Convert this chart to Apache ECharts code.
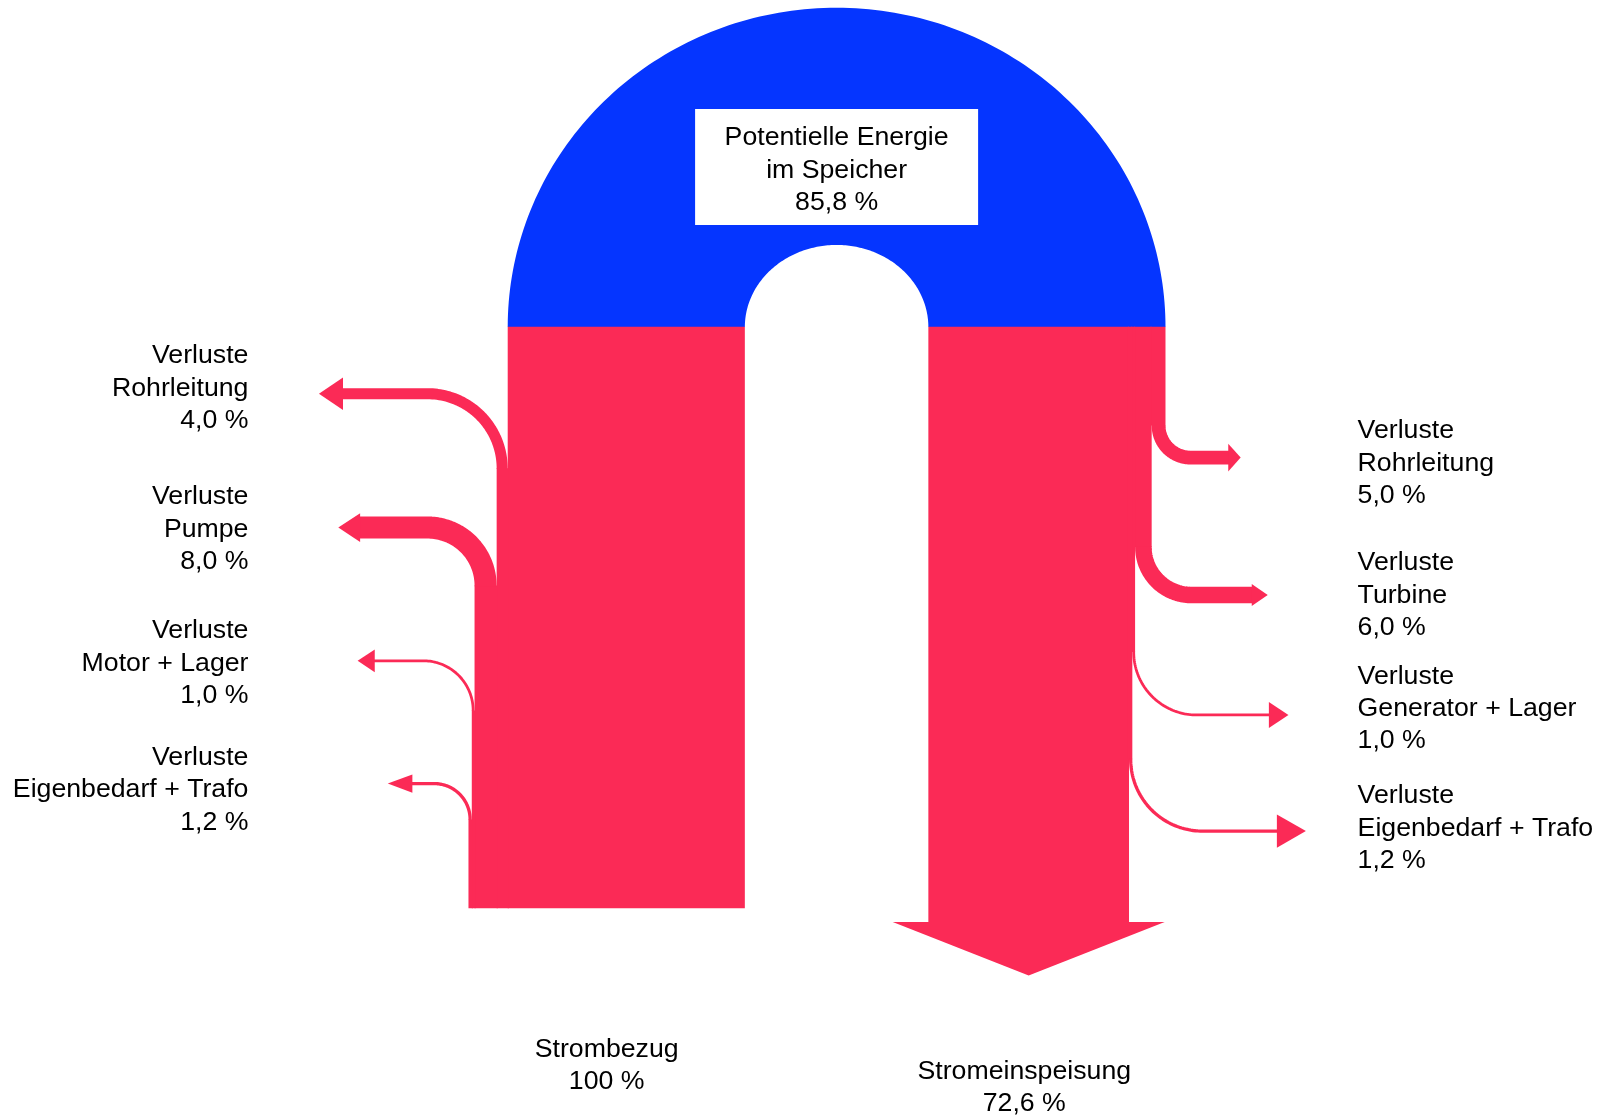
<!DOCTYPE html>
<html>
<head>
<meta charset="utf-8">
<script src="https://cdn.jsdelivr.net/npm/echarts@6/dist/echarts.min.js"></script>
<style>
html,body{margin:0;padding:0;background:#fff;}
#chart{width:1603px;height:1117px;}
</style>
</head>
<body>
<div id="chart"></div>
<script>
// ---------------- data (percent of the electrical input) ----------------
const inputName = 'Strombezug';
const inputValue = 100;
const storageName = 'Potentielle Energie\nim Speicher';
const storageValue = 85.8;
const outputName = 'Stromeinspeisung';
const outputValue = 72.6;
const lossPrefix = 'Verluste';
const pumpLossNames = ['Rohrleitung', 'Pumpe', 'Motor + Lager', 'Eigenbedarf + Trafo'];
const pumpLossValues = [4.0, 8.0, 1.0, 1.2];
const turbineLossNames = ['Rohrleitung', 'Turbine', 'Generator + Lager', 'Eigenbedarf + Trafo'];
const turbineLossValues = [5.0, 6.0, 1.0, 1.2];

// ---------------- layout (in flow units: 1 unit = 1 % of flow width) ----------------
const L = {
  leftColRight: 269.5,
  rightColLeft: 335.9,
  colTop: 118.3,
  leftColBottom: 328.5,
  rightColBottom: 333.5,
  downHeadExtra: 12.9,
  downHeadLen: 19.3,
  archInnerRy: 29.7,
  box: { cy: 60.4, hw: 51.2, hh: 21 },
  pump: [
    { y: 142.4, r: 27, tip: 115.4, hl: 8.7, hh: 5.9, ly: 140.4 },
    { y: 190.8, r: 21, tip: 122.4, hl: 7.9, hh: 5.2, ly: 191.4 },
    { y: 239.0, r: 18, tip: 129.4, hl: 6.2, hh: 4.1, ly: 239.9 },
    { y: 283.4, r: 13, tip: 140.3, hl: 8.9, hh: 3.3, ly: 285.7 }
  ],
  turbine: [
    { y: 165.5, r: 11.6, tip: 448.9, hl: 4.5, hh: 5.0, ly: 167.6 },
    { y: 215.2, r: 17.4, tip: 458.7, hl: 5.8, hh: 4.0, ly: 215.3 },
    { y: 258.6, r: 22.8, tip: 466.2, hl: 7.1, hh: 4.7, ly: 256.3 },
    { y: 300.6, r: 26.0, tip: 472.5, hl: 10.5, hh: 6.0, ly: 299.6 }
  ],
  seam: 0.4,
  leftLabelX: 89.9,
  rightLabelX: 491.2,
  inLabelY: 385.4,
  outLabelY: 393.4,
  outLabelDx: -1.6,
  boxTextDy: 1.2
};

const RED = '#FB2A56';
const BLUE = '#0535FF';
const TXT = {
  fontFamily: '"Liberation Sans", Arial, Helvetica, sans-serif',
  fontSize: 26.7,
  lineHeight: 32.4,
  fill: '#000'
};

function pct(v) {
  return (Number.isInteger(v) && v >= 100 ? String(v) : v.toFixed(1).replace('.', ',')) + ' %';
}
function sum(arr) { return arr.reduce((a, b) => a + b, 0); }
function rectEl(api, xa, ya, xb, yb) {
  const p0 = api.coord([Math.min(xa, xb), Math.min(ya, yb)]);
  const p1 = api.coord([Math.max(xa, xb), Math.max(ya, yb)]);
  return { type: 'rect', shape: { x: p0[0], y: p0[1], width: p1[0] - p0[0], height: p1[1] - p0[1] }, style: { fill: RED } };
}

// ---- storage arch (potential energy) ----
function renderStorage(params, api) {
  const v = api.value(0);
  const cx = (L.leftColRight + L.rightColLeft) / 2;
  const rxi = (L.rightColLeft - L.leftColRight) / 2;
  const ryi = L.archInnerRy;
  const rxo = rxi + v, ryo = ryi + v;
  const N = 160;
  const pts = [];
  for (let k = 0; k <= N; k++) {
    const t = Math.PI * (1 - k / N);
    pts.push(api.coord([cx + rxo * Math.cos(t), L.colTop - ryo * Math.sin(t)]));
  }
  for (let k = 0; k <= N; k++) {
    const t = Math.PI * k / N;
    pts.push(api.coord([cx + rxi * Math.cos(t), L.colTop - ryi * Math.sin(t)]));
  }
  const b0 = api.coord([cx - L.box.hw, L.box.cy - L.box.hh]);
  const b1 = api.coord([cx + L.box.hw, L.box.cy + L.box.hh]);
  const c = api.coord([cx, L.box.cy + L.boxTextDy]);
  return {
    type: 'group',
    children: [
      { type: 'polygon', shape: { points: pts }, style: { fill: BLUE } },
      { type: 'rect', shape: { x: b0[0], y: b0[1], width: b1[0] - b0[0], height: b1[1] - b0[1] }, style: { fill: '#fff' } },
      { type: 'text', x: c[0], y: c[1], style: Object.assign({}, TXT, { text: storageName + '\n' + pct(v), align: 'center', verticalAlign: 'middle' }) }
    ]
  };
}

// ---- input column (left) ----
function renderInput(params, api) {
  const v = api.value(0);
  const mainW = v - sum(pumpLossValues);
  const lab = api.coord([L.leftColRight - v / 2, L.inLabelY]);
  return {
    type: 'group',
    children: [
      rectEl(api, L.leftColRight - mainW, L.colTop - 0.1, L.leftColRight, L.leftColBottom),
      { type: 'text', x: lab[0], y: lab[1], style: Object.assign({}, TXT, { text: inputName + '\n' + pct(v), align: 'center', verticalAlign: 'middle' }) }
    ]
  };
}

// ---- output column (right) with arrow ----
function renderOutput(params, api) {
  const v = api.value(0);
  const x0 = L.rightColLeft, x1 = L.rightColLeft + v;
  const head = [
    api.coord([x0 - L.downHeadExtra, L.rightColBottom]),
    api.coord([x1 + L.downHeadExtra, L.rightColBottom]),
    api.coord([(x0 + x1) / 2, L.rightColBottom + L.downHeadLen])
  ];
  const lab = api.coord([(x0 + x1) / 2 + L.outLabelDx, L.outLabelY]);
  return {
    type: 'group',
    children: [
      rectEl(api, x0, L.colTop - 0.1, x1, L.rightColBottom + 0.2),
      { type: 'polygon', shape: { points: head }, style: { fill: RED } },
      { type: 'text', x: lab[0], y: lab[1], style: Object.assign({}, TXT, { text: outputName + '\n' + pct(v), align: 'center', verticalAlign: 'middle' }) }
    ]
  };
}

// ---- loss branches, pumping side (going left) ----
function renderPumpLoss(params, api) {
  const i = params.dataIndex;
  const v = api.value(0);
  const g = L.pump[i];
  const before = sum(pumpLossValues.slice(0, i));
  const xc = L.leftColRight - (inputValue - sum(pumpLossValues)) - before - v / 2;
  const cx = xc - g.r, cy = g.y + g.r;
  const pts = [api.coord([xc, cy + 0.2])];
  const N = 48;
  for (let k = 0; k <= N; k++) {
    const t = (Math.PI / 2) * k / N;
    pts.push(api.coord([cx + g.r * Math.cos(t), cy - g.r * Math.sin(t)]));
  }
  pts.push(api.coord([g.tip + g.hl - 0.3, g.y]));
  const lw = api.size([v, 0])[0];
  const head = [
    api.coord([g.tip + g.hl, g.y - g.hh]),
    api.coord([g.tip, g.y]),
    api.coord([g.tip + g.hl, g.y + g.hh])
  ];
  const lab = api.coord([L.leftLabelX, g.ly]);
  return {
    type: 'group',
    children: [
      // vertical strip, overlapping slightly into its inner neighbour to avoid seams
      rectEl(api, xc - v / 2, cy, xc + v / 2 + L.seam, L.leftColBottom),
      { type: 'polyline', shape: { points: pts }, style: { stroke: RED, lineWidth: lw, fill: null, lineCap: 'butt', lineJoin: 'round' } },
      { type: 'polygon', shape: { points: head }, style: { fill: RED } },
      { type: 'text', x: lab[0], y: lab[1], style: Object.assign({}, TXT, { text: lossPrefix + '\n' + pumpLossNames[i] + '\n' + pct(v), align: 'right', verticalAlign: 'middle' }) }
    ]
  };
}

// ---- loss branches, turbine side (going right) ----
function renderTurbineLoss(params, api) {
  const i = params.dataIndex;
  const v = api.value(0);
  const g = L.turbine[i];
  const inner = sum(turbineLossValues.slice(i + 1));
  const xc = L.rightColLeft + outputValue + inner + v / 2;
  const cx = xc + g.r, cy = g.y - g.r;
  const pts = [api.coord([xc, cy - 0.2])];
  const N = 48;
  for (let k = 0; k <= N; k++) {
    const t = Math.PI - (Math.PI / 2) * k / N;
    pts.push(api.coord([cx + g.r * Math.cos(t), cy + g.r * Math.sin(t)]));
  }
  pts.push(api.coord([g.tip - g.hl + 0.3, g.y]));
  const lw = api.size([v, 0])[0];
  const head = [
    api.coord([g.tip - g.hl, g.y - g.hh]),
    api.coord([g.tip, g.y]),
    api.coord([g.tip - g.hl, g.y + g.hh])
  ];
  const lab = api.coord([L.rightLabelX, g.ly]);
  return {
    type: 'group',
    children: [
      rectEl(api, xc - v / 2 - L.seam, L.colTop - 0.1, xc + v / 2, cy),
      { type: 'polyline', shape: { points: pts }, style: { stroke: RED, lineWidth: lw, fill: null, lineCap: 'butt', lineJoin: 'round' } },
      { type: 'polygon', shape: { points: head }, style: { fill: RED } },
      { type: 'text', x: lab[0], y: lab[1], style: Object.assign({}, TXT, { text: lossPrefix + '\n' + turbineLossNames[i] + '\n' + pct(v), align: 'left', verticalAlign: 'middle' }) }
    ]
  };
}

const chart = echarts.init(document.getElementById('chart'), null, { renderer: 'canvas' });
chart.setOption({
  animation: false,
  backgroundColor: '#ffffff',
  grid: { left: 0, right: 0, top: 0, bottom: 0 },
  xAxis: { type: 'value', min: 0, max: 580, show: false },
  yAxis: { type: 'value', min: 0, max: 404, inverse: true, show: false },
  series: [
    { type: 'custom', name: 'Speicher', renderItem: renderStorage, data: [{ name: storageName, value: [storageValue, 0] }], z: 1 },
    { type: 'custom', name: inputName, renderItem: renderInput, data: [{ name: inputName, value: [inputValue, 0] }], z: 2 },
    { type: 'custom', name: outputName, renderItem: renderOutput, data: [{ name: outputName, value: [outputValue, 0] }], z: 2 },
    { type: 'custom', name: 'Verluste Pumpbetrieb', renderItem: renderPumpLoss,
      data: pumpLossValues.map((v, i) => ({ name: pumpLossNames[i], value: [v, i] })), z: 3 },
    { type: 'custom', name: 'Verluste Turbinenbetrieb', renderItem: renderTurbineLoss,
      data: turbineLossValues.map((v, i) => ({ name: turbineLossNames[i], value: [v, i] })), z: 3 }
  ]
});
</script>
</body>
</html>
